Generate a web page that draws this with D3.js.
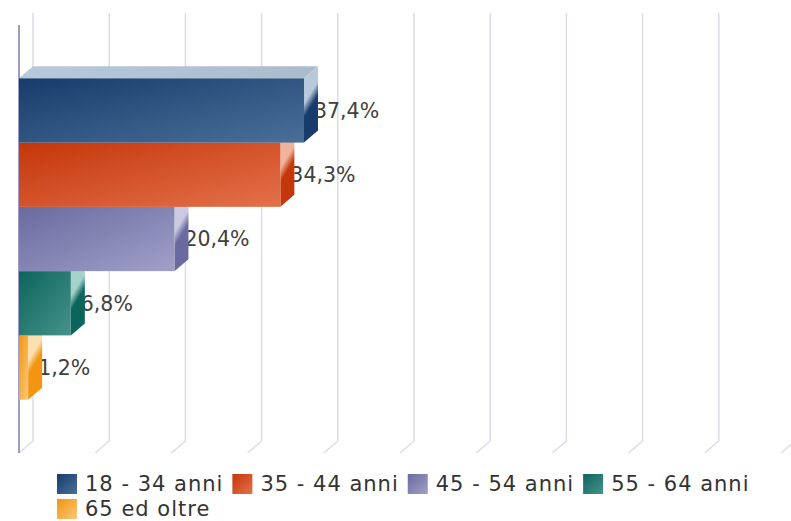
<!DOCTYPE html>
<html lang="it">
<head>
  <meta charset="UTF-8" />
  <title>Fasce d'eta</title>
  <style>
  body { margin: 0; background: #fff; }
  text { font-family: "DejaVu Sans", sans-serif; fill: #333; }
  </style>
</head>
<body>
  <svg id="chart" width="791" height="521"></svg>
  <script src="https://cdn.jsdelivr.net/npm/d3@7/dist/d3.min.js"></script>
  <script>
  // data
  var categories = ["18 - 34 anni", "35 - 44 anni", "45 - 54 anni", "55 - 64 anni", "65 ed oltre"];
  var values = [37.4, 34.3, 20.4, 6.8, 1.2];
  var gridTicks = [0, 10, 20, 30, 40, 50, 60, 70, 80, 90, 100];

  // base / light colours of each series
  var darkColors  = ["#173c6c", "#c5360a", "#6a6aa0", "#0c655d", "#f29510"];
  var lightColors = ["#4a7098", "#e3714a", "#a0a0c8", "#46928a", "#fcc878"];
  var topColors   = ["#b7c9db", "#f0b39c", "#cacae2", "#a6d2cc", "#fde0b0"];

  var svg = d3.select("#chart");
  var defs = svg.append("defs");

  var depth = {x: 14, y: 12};
  var plot = {left: 19, right: 781, top: 25, bottom: 453};

  var x = d3.scaleLinear().domain([0, 100]).range([plot.left, plot.right]);
  var y = d3.scaleBand().domain(categories).range([plot.top, plot.bottom])
    .paddingInner(0).paddingOuter(0.83);

  var it = d3.formatLocale({decimal: ",", thousands: ".", grouping: [3], currency: ["", "€"]});
  var fmt = it.format(".1f");

  // gradients
  categories.forEach(function(c, i) {
    var g = defs.append("linearGradient").attr("id", "front" + i)
      .attr("x1", 0).attr("y1", 0).attr("x2", 1).attr("y2", 1);
    g.append("stop").attr("offset", "0%").attr("stop-color", darkColors[i]);
    g.append("stop").attr("offset", "100%").attr("stop-color", lightColors[i]);

    var s = defs.append("linearGradient").attr("id", "side" + i)
      .attr("x1", 0).attr("y1", 0).attr("x2", 0.3).attr("y2", 1);
    s.append("stop").attr("offset", "0%").attr("stop-color", topColors[i]);
    s.append("stop").attr("offset", "45%").attr("stop-color", topColors[i]);
    s.append("stop").attr("offset", "62%").attr("stop-color", darkColors[i]);
    s.append("stop").attr("offset", "100%").attr("stop-color", darkColors[i]);

    var t = defs.append("linearGradient").attr("id", "top" + i)
      .attr("x1", 0).attr("y1", 0).attr("x2", 1).attr("y2", 0);
    t.append("stop").attr("offset", "0%").attr("stop-color", topColors[i]);
    t.append("stop").attr("offset", "100%").attr("stop-color", d3.color(topColors[i]).darker(0.2));
  });

  // grid lines on the back wall, with the floor edge
  svg.append("g").selectAll("path")
    .data(gridTicks)
    .enter().append("path")
      .attr("d", function(d) {
        var xb = x(d) + depth.x;
        return "M" + xb + "," + (plot.top - depth.y) +
               "L" + xb + "," + (plot.bottom - depth.y) +
               "L" + x(d) + "," + plot.bottom;
      })
      .attr("fill", "none")
      .attr("stroke", "#dcdcea")
      .attr("stroke-width", 1.5);

  // front axis line
  svg.append("line")
    .attr("x1", plot.left).attr("x2", plot.left)
    .attr("y1", plot.top).attr("y2", plot.bottom)
    .attr("stroke", "#9c9cc4").attr("stroke-width", 2);

  // data labels (sit under the bar sides)
  svg.append("g").selectAll("text")
    .data(values)
    .enter().append("text")
      .attr("x", function(d) { return x(d) + 10; })
      .attr("y", function(d, i) { return y(categories[i]) + y.bandwidth() / 2; })
      .attr("dy", "0.36em")
      .attr("font-size", 20.5)
      .style("fill", "#404040")
      .text(function(d) { return fmt(d) + "%"; });

  // bars, drawn bottom first so upper bars hide lower sides
  var order = d3.range(values.length).reverse();
  var bars = svg.append("g").selectAll("g")
    .data(order)
    .enter().append("g");

  bars.append("path")
    .attr("d", function(i) {
      var x0 = x(0), x1 = x(values[i]), y0 = y(categories[i]);
      return "M" + x0 + "," + y0 + "L" + x1 + "," + y0 +
             "L" + (x1 + depth.x) + "," + (y0 - depth.y) +
             "L" + (x0 + depth.x) + "," + (y0 - depth.y) + "Z";
    })
    .attr("fill", function(i) { return "url(#top" + i + ")"; });

  bars.append("path")
    .attr("d", function(i) {
      var x1 = x(values[i]), y0 = y(categories[i]), y1 = y0 + y.bandwidth();
      return "M" + x1 + "," + y0 + "L" + (x1 + depth.x) + "," + (y0 - depth.y) +
             "L" + (x1 + depth.x) + "," + (y1 - depth.y) +
             "L" + x1 + "," + y1 + "Z";
    })
    .attr("fill", function(i) { return "url(#side" + i + ")"; });

  bars.append("rect")
    .attr("x", x(0))
    .attr("y", function(i) { return y(categories[i]); })
    .attr("width", function(i) { return x(values[i]) - x(0); })
    .attr("height", y.bandwidth())
    .attr("fill", function(i) { return "url(#front" + i + ")"; });

  // legend, flowing left to right and wrapping
  var legend = svg.append("g");
  var lx = 57, ly = 473, rowH = 25, sym = 20, gap = 8, itemDist = 9, maxX = 780;
  categories.forEach(function(c, i) {
    var item = legend.append("g");
    var label = item.append("text")
      .attr("font-size", 21)
      .attr("letter-spacing", 1)
      .attr("x", sym + gap)
      .attr("y", 18)
      .text(c);
    var w = sym + gap + label.node().getComputedTextLength();
    if (lx + w > maxX) { lx = 57; ly += rowH; }
    item.attr("transform", "translate(" + lx + "," + ly + ")");
    item.insert("rect", "text")
      .attr("y", 1)
      .attr("width", sym).attr("height", sym)
      .attr("fill", "url(#front" + i + ")");
    lx += w + itemDist;
  });
  </script>
</body>
</html>
